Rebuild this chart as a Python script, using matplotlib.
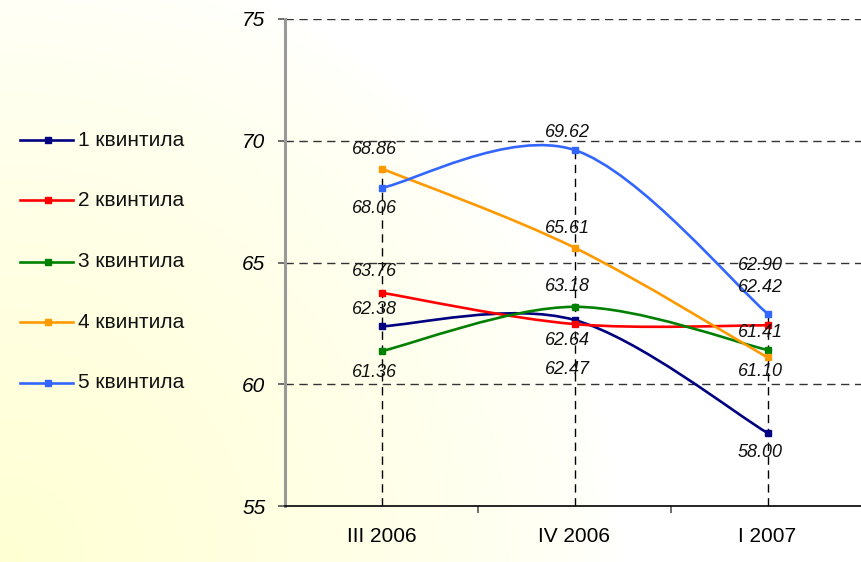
import numpy as np
import matplotlib
matplotlib.use("Agg")
import matplotlib.pyplot as plt
from matplotlib.path import Path
from matplotlib.patches import PathPatch
from matplotlib.lines import Line2D

plt.rcParams['font.family'] = ['Liberation Sans', 'DejaVu Sans']

categories = ["III 2006", "IV 2006", "I 2007"]
series_names = ["1 квинтила", "2 квинтила", "3 квинтила", "4 квинтила", "5 квинтила"]
q1 = [62.38, 62.64, 58.00]
q2 = [63.76, 62.47, 62.42]
q3 = [61.36, 63.18, 61.41]
q4 = [68.86, 65.61, 61.10]
q5 = [68.06, 69.62, 62.90]
yticks = [55, 60, 65, 70, 75]

series = [q1, q2, q3, q4, q5]
colors = ["#000080", "#FF0000", "#008000", "#FF9900", "#3366FF"]
# label vertical offsets in pixels (negative = above) for each series / category
label_offsets = [
    [-17, 21, 20],
    [-21, 45, -38],
    [21, -20, -17],
    [-19, -19, 14],
    [21, -18, -48],
]

W, H, DPI = 861, 562, 100
fig = plt.figure(figsize=(W / DPI, H / DPI), dpi=DPI)

# background gradient
bg = fig.add_axes([0, 0, 1, 1], zorder=-10)
yy, xx = np.mgrid[0:H, 0:W]
d = np.sqrt(xx ** 2 + (H - yy) ** 2)
t = np.clip(1 - d / 620.0, 0, 1) ** 0.7
white = np.array([1.0, 1.0, 1.0])
yellow = np.array([1.0, 1.0, 0.83])
img = white[None, None, :] * (1 - t[..., None]) + yellow[None, None, :] * t[..., None]
bg.imshow(img, aspect='auto', extent=[0, 1, 0, 1])
bg.axis('off')

left = 285 / W
bottom = (H - 506) / H
width = 579 / W
height = (506 - 19) / H
ax = fig.add_axes([left, bottom, width, height])
ax.patch.set_alpha(0)
ax.set_xlim(-0.5, 2.5)
ax.set_ylim(55, 75)

x = np.arange(len(categories))


def smooth_path(xs, ys):
    pts = list(zip(xs, ys))
    n = len(pts)
    verts = [pts[0]]
    codes = [Path.MOVETO]
    for i in range(n - 1):
        p0 = np.array(pts[i - 1] if i > 0 else pts[i])
        p1 = np.array(pts[i])
        p2 = np.array(pts[i + 1])
        p3 = np.array(pts[i + 2] if i + 2 < n else pts[i + 1])
        c1 = p1 + (p2 - p0) / 6.0
        c2 = p2 - (p3 - p1) / 6.0
        verts += [tuple(c1), tuple(c2), tuple(p2)]
        codes += [Path.CURVE4] * 3
    return Path(verts, codes)


# gridlines
for v in yticks[1:]:
    ax.axhline(v, color='#333333', lw=1, linestyle=(0, (6, 4)), zorder=1)

# drop lines
tops = [max(s[i] for s in series) for i in range(len(categories))]
ax.vlines(x, 55, tops, color='black', lw=1, linestyle=(0, (6, 4)), zorder=1)

for s, c, offs in zip(series, colors, label_offsets):
    patch = PathPatch(smooth_path(x, s), facecolor='none', edgecolor=c, lw=1.9, zorder=3)
    ax.add_patch(patch)
    ax.plot(x, s, linestyle='none', marker='s', color=c, markersize=5, zorder=4)
    for xi, v, o in zip(x, s, offs):
        ax.annotate(f"{v:.2f}", (xi, v), xytext=(-7 * 0.72, -o * 0.72), textcoords='offset points',
                    ha='center', va='center', fontsize=13, style='italic', color='#111111', zorder=5)

# axes styling
ax.spines['top'].set_visible(False)
ax.spines['right'].set_visible(False)
ax.spines['left'].set_color('#999999')
ax.spines['left'].set_linewidth(2.2)
ax.axvline(-0.5, color='#444444', lw=2, linestyle=(0, (3, 2)), zorder=2)
ax.spines['bottom'].set_color('black')
ax.spines['bottom'].set_linewidth(1.2)

ax.set_yticks(yticks)
ax.set_yticklabels([str(v) for v in yticks], fontsize=15, style='italic')
ax.tick_params(axis='y', length=5, width=1.2, color='#555555', pad=9)

ax.set_xticks(x)
ax.set_xticklabels(categories, fontsize=15)
ax.tick_params(axis='x', which='major', length=0, pad=15)
ax.set_xticks([0.5, 1.5], minor=True)
ax.tick_params(axis='x', which='minor', length=5, width=1.2, color='#555555')

# legend (manual)
row_y = [140, 200, 262, 322, 383]
for name, c, ry in zip(series_names, colors, row_y):
    fy = 1 - ry / H
    fig.add_artist(Line2D([20 / W, 73 / W], [fy, fy], transform=fig.transFigure, color=c, lw=1.9))
    fig.add_artist(Line2D([48 / W], [fy], transform=fig.transFigure, color=c, marker='s',
                          markersize=5, linestyle='none'))
    fig.text(78 / W, fy, name, fontsize=15, va='center', ha='left', color='#111111')

fig.savefig("out.png", dpi=DPI)
